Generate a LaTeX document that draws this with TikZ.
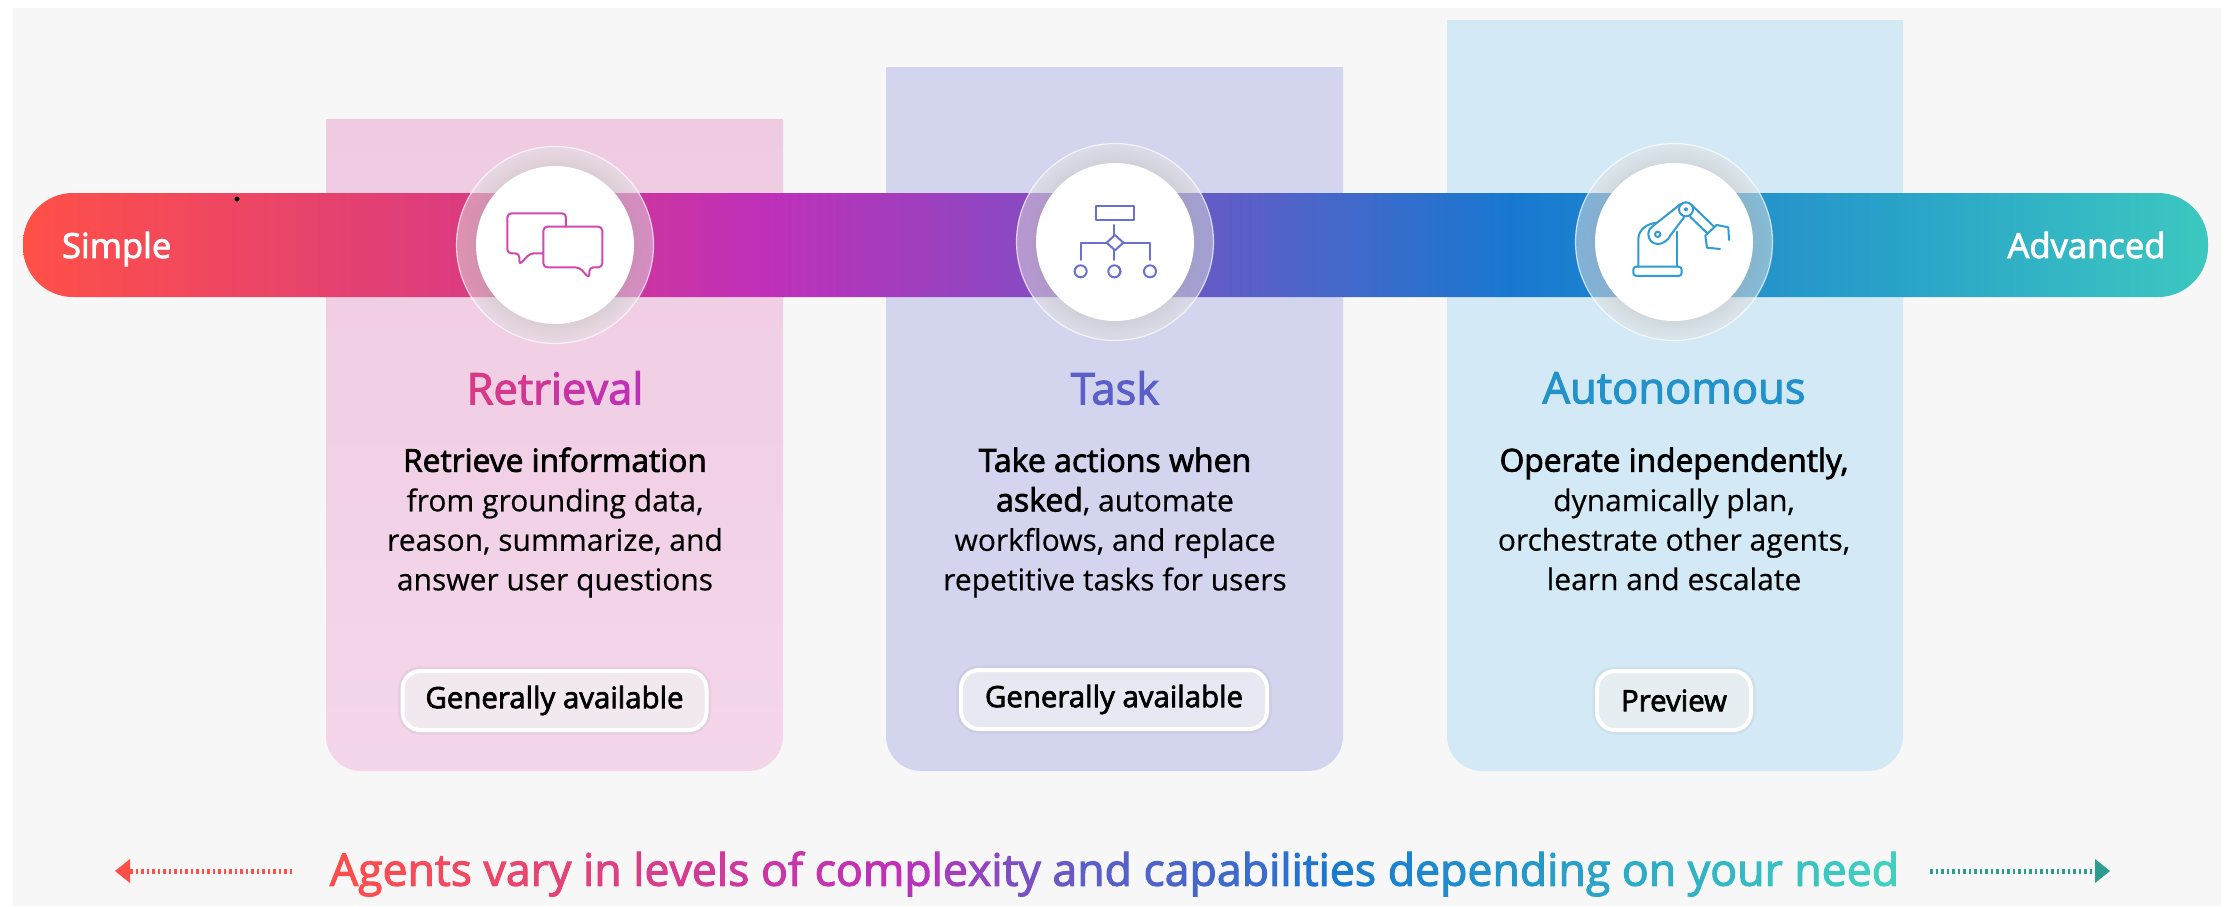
\documentclass[tikz,border=0pt]{standalone}
\usepackage{fontspec}
\usetikzlibrary{arrows.meta,fadings}
\setmainfont{Open Sans}[FakeBold=0.4]
\newfontfamily\semib[FakeBold=2.4]{Open Sans}
\definecolor{gA}{HTML}{FF5047}
\definecolor{gB}{HTML}{D83A85}
\definecolor{gC}{HTML}{BF30BA}
\definecolor{gD}{HTML}{5B5FC7}
\definecolor{gE}{HTML}{1878D0}
\definecolor{gF}{HTML}{2AA3C8}
\definecolor{gG}{HTML}{3CC8C0}
\definecolor{chatc}{HTML}{D048B0}
\definecolor{flowc}{HTML}{6A70CF}
\definecolor{robc}{HTML}{2F9BD3}
\definecolor{pagebg}{HTML}{F7F7F7}
\definecolor{pinkT}{HTML}{EFCBE2}
\definecolor{pinkB}{HTML}{F4D6EA}
\definecolor{lilac}{HTML}{D3D4EE}
\definecolor{sky}{HTML}{D3EAF6}
\definecolor{frost}{HTML}{E6E6E6}
\definecolor{pillA}{HTML}{F2E8F0}
\definecolor{pillB}{HTML}{E8E8F2}
\definecolor{pillC}{HTML}{E6EEF2}
\definecolor{arrowL}{HTML}{FF5047}
\definecolor{arrowR}{HTML}{2A9D8F}
\pgfdeclarehorizontalshading{barshade}{100bp}{
 color(0bp)=(gA);color(25bp)=(gA);color(36bp)=(gB);color(42bp)=(gC);
 color(53bp)=(gD);color(59bp)=(gE);color(68bp)=(gF);color(75bp)=(gG);color(100bp)=(gG)}
\pgfdeclareradialshading{haloshade}{\pgfpoint{0bp}{0bp}}{
 color(0bp)=(pgftransparent!82);color(20bp)=(pgftransparent!82);color(25bp)=(pgftransparent);color(50bp)=(pgftransparent)}
\pgfdeclarefading{halofade}{\pgfuseshading{haloshade}}
\makeatletter
\newcount\gtcount
\newcommand{\gtstep}[1]{%
  \global\advance\gtcount by 1
  \begingroup
  \edef\gtp{\the\numexpr\gtcount*100/62\relax}%
  \ifnum\gtp<38 \edef\gtq{\the\numexpr 100-\gtp*100/38\relax}\color{gC!\the\numexpr100-\gtq\relax!gA}%
  \else\ifnum\gtp<52 \edef\gtq{\the\numexpr (\gtp-38)*100/14\relax}\color{gD!\gtq!gC}%
  \else\ifnum\gtp<70 \edef\gtq{\the\numexpr (\gtp-52)*100/18\relax}\color{gE!\gtq!gD}%
  \else\ifnum\gtp<86 \edef\gtq{\the\numexpr (\gtp-70)*100/16\relax}\color{gF!\gtq!gE}%
  \else \edef\gtq{\the\numexpr (\gtp-86)*100/14\relax}\color{gG!\gtq!gF}%
  \fi\fi\fi\fi
  #1\endgroup}
\newcommand{\gw}[1]{\@tfor\gtl:=#1\do{\expandafter\gtstep\expandafter{\gtl}}}
\makeatother
\newcommand{\bl}[2]{{\fontsize{#1}{39.5}\semib #2}}
\tikzset{
  halo/.style={circle,minimum size=197,inner sep=0,fill=frost,fill opacity=.5,draw=white,draw opacity=.7,line width=1.2},
  haloshadow/.style={circle,minimum size=197,inner sep=0,fill=black!40,path fading=halofade},
  disc/.style={circle,minimum size=158,inner sep=0,fill=white},
  cardtitle/.style={font=\fontsize{43.5}{50}\semib,anchor=center},
  body/.style={font=\fontsize{30}{39.5}\selectfont,align=center,anchor=north,text=black},
  pill/.style={rounded corners=18,draw=white,line width=4,font=\fontsize{29.4}{34}\semib,text=black,minimum height=59,inner sep=0,
     preaction={draw=black!40,draw opacity=.12,line width=9}},
  barlabel/.style={font=\fontsize{34.6}{40}\semib,text=white},
  icon/.style={line width=2,line join=round,line cap=round},
  dots/.style={line width=5,dash pattern=on 2.5 off 3},
}
\begin{document}
\begin{tikzpicture}[x=1pt,y=-1pt]
\useasboundingbox (0,0) rectangle (2226,906);
\fill[white] (0,0) rectangle (2226,906);
\fill[pagebg] (13,8) rectangle (2221,906);
% cards
\shade[top color=pinkT,bottom color=pinkB] (326,119) -- (783,119) -- (783,736) arc[start angle=0,end angle=90,radius=35] -- (361,771) arc[start angle=90,end angle=180,radius=35] -- cycle;
\fill[lilac] (886,67) -- (1343,67) -- (1343,736) arc[start angle=0,end angle=90,radius=35] -- (921,771) arc[start angle=90,end angle=180,radius=35] -- cycle;
\fill[sky] (1447,20) -- (1903,20) -- (1903,736) arc[start angle=0,end angle=90,radius=35] -- (1482,771) arc[start angle=90,end angle=180,radius=35] -- cycle;
% bar
\shade[shading=barshade,rounded corners=50] (23,193) rectangle (2208,297);
\fill[black] (237,199) circle[radius=2.5];
\node[barlabel,anchor=base west] (simple) at (58.5,258) {Simple};
\node[barlabel,anchor=base east] (advanced) at (2169,258) {Advanced};
% circles
\node[halo] (haloA) at (555,245) {};
\node[haloshadow] (shadeA) at (555,245) {};
\node[disc] (discA) at (555,245) {};
\node[halo] (haloB) at (1115,242) {};
\node[haloshadow] (shadeB) at (1115,242) {};
\node[disc] (discB) at (1115,242) {};
\node[halo] (haloC) at (1674,242) {};
\node[haloshadow] (shadeC) at (1674,242) {};
\node[disc] (discC) at (1674,242) {};
% chat icon
\begin{scope}[shift={(480,190)},x=.3333pt,y=-.3333pt]
\draw[icon,chatc,rounded corners=4] (258,110) -- (258,70) -- (82,70) -- (82,190) -- (118,190) -- (118,225) -- (150,190) -- (190,190);
\draw[icon,chatc,rounded corners=4] (298,232) -- (328,265) -- (328,232) -- (367,232) -- (367,110) -- (190,110) -- (190,232) -- cycle;
\end{scope}
% flow icon
\begin{scope}[shift={(950,120)},x=.3333pt,y=-.3333pt]
\draw[icon,flowc,line cap=butt] (438,257) rectangle (553,300);
\draw[icon,flowc] (493,315) -- (493,345);
\draw[icon,flowc] (495,345) -- (520,368) -- (495,391) -- (470,368) -- cycle;
\draw[icon,flowc] (470,368) -- (392,368) -- (392,420);
\draw[icon,flowc] (520,368) -- (600,368) -- (600,420);
\draw[icon,flowc] (493,391) -- (493,420);
\draw[icon,flowc] (392,454) circle[radius=18];
\draw[icon,flowc] (493,454) circle[radius=18];
\draw[icon,flowc] (600,454) circle[radius=18];
\draw[icon,flowc] (505,440) arc[start angle=-50,end angle=50,radius=18];
\end{scope}
% robot icon
\begin{scope}[shift={(1520,120)},x=.3333pt,y=-.3333pt]
\draw[icon,robc,rounded corners=3] (340,468) rectangle (485,440);
\draw[icon,robc] (355,440) -- (355,358) .. controls (355,330) and (380,310) .. (412,308);
\draw[icon,robc] (470,335) -- (470,440);
\draw[icon,robc] (452,345) .. controls (442,365) and (425,372) .. (413,372) .. controls (396,372) and (385,358) .. (385,343) .. controls (385,330) and (392,322) .. (400,317) -- (482,252);
\draw[icon,robc] (452,345) -- (492,292);
\draw[icon,robc] (498,268) circle[radius=21];
\fill[robc] (498,268) circle[radius=6];
\draw[icon,robc] (413,343) circle[radius=8];
\draw[icon,robc] (515,255) -- (582,320);
\draw[icon,robc] (510,290) -- (562,340);
\draw[icon,robc] (627,360) -- (625,322) -- (590,315) -- (556,347) -- (561,383) -- (600,387);
\end{scope}
% titles
\node[cardtitle] (titleA) at (555,388) {\begingroup\color{gB}R\color{gB!88!gC}e\color{gB!75!gC}t\color{gB!63!gC}r\color{gB!50!gC}i\color{gB!38!gC}e\color{gB!25!gC}v\color{gB!12!gC}a\color{gC}l\endgroup};
\node[cardtitle,text=gD] (titleB) at (1115,388) {Task};
\node[cardtitle,text=gF!60!gE] (titleC) at (1674,388) {Autonomous};
% bodies
\node[body] (bodyA) at (555,444) {\bl{31.7}{Retrieve information}\\from grounding data,\\reason, summarize, and\\answer user questions};
\node[body] (bodyB) at (1115,444) {\bl{32}{Take actions when}\\\bl{32}{asked}, automate\\workflows, and replace\\repetitive tasks for users};
\node[body] (bodyC) at (1674,444) {\bl{31.7}{Operate independently,}\\dynamically plan,\\orchestrate other agents,\\learn and escalate};
% pills
\node[pill,fill=pillA,minimum width=304] (pillA) at (554.5,700.5) {Generally available};
\node[pill,fill=pillB,minimum width=306] (pillB) at (1114,699.5) {Generally available};
\node[pill,fill=pillC,minimum width=154] (pillC) at (1674,700.5) {Preview};
% footer
\node[font=\fontsize{44.6}{52}\semib,anchor=center] (footer) at (1114.5,874) {\global\gtcount=0 \gw{Agents} \gw{vary} \gw{in} \gw{levels} \gw{of} \gw{complexity} \gw{and} \gw{capabilities} \gw{depending} \gw{on} \gw{your} \gw{need}};
\coordinate (lfrom) at (292,871);
\coordinate (lto) at (115,871);
\coordinate (rfrom) at (1930,871);
\coordinate (rto) at (2110,871);
\draw[dots,arrowL,-{Triangle[length=15,width=24,line width=0pt,sep=0pt]}] (lfrom) -- (lto);
\draw[dots,arrowR,-{Triangle[length=15,width=24,line width=0pt,sep=0pt]}] (rfrom) -- (rto);
\end{tikzpicture}
\end{document}
